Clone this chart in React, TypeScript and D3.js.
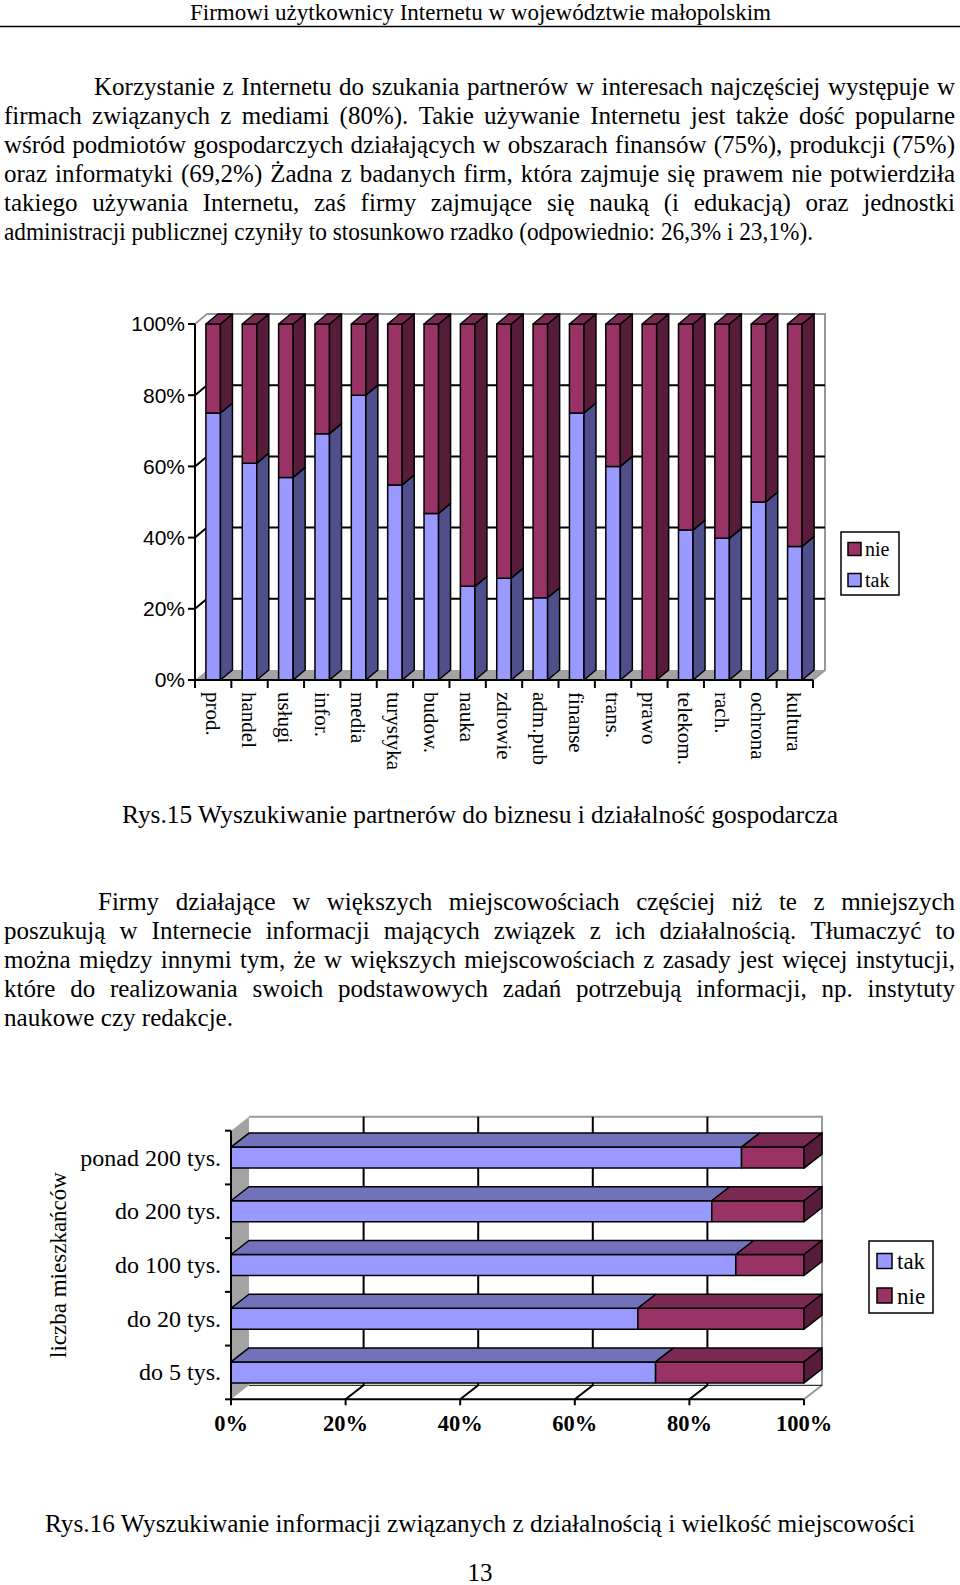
import * as d3 from 'd3'

// --- rysunek 15: partnerzy w interesach wg branży ---
const branze = ['prod.', 'handel', 'usługi', 'infor.', 'media', 'turystyka', 'budow.', 'nauka', 'zdrowie', 'adm.pub', 'finanse', 'trans.', 'prawo', 'telekom.', 'rach.', 'ochrona', 'kultura']
const branzeTak = [75, 60.9, 56.9, 69.2, 80, 54.8, 46.8, 26.3, 28.6, 23.1, 75, 60, 0, 42.1, 39.8, 50, 37.5]
const branzeNie = [25, 39.1, 43.1, 30.8, 20, 45.2, 53.2, 73.7, 71.4, 76.9, 25, 40, 100, 57.9, 60.2, 50, 62.5]
const ticks1 = [0, 20, 40, 60, 80, 100]

// --- rysunek 16: informacje a wielkość miejscowości ---
const miejscowosci = ['ponad 200 tys.', 'do 200 tys.', 'do 100 tys.', 'do 20 tys.', 'do 5 tys.']
const miejscTak = [89.1, 83.9, 88.1, 71.0, 74.1]
const miejscNie = [10.9, 16.1, 11.9, 29.0, 25.9]
const ticks2 = [0, 20, 40, 60, 80, 100]

const para1 = [
  'Korzystanie z Internetu do szukania partnerów w interesach najczęściej występuje w',
  'firmach związanych z mediami (80%). Takie używanie Internetu jest także dość popularne',
  'wśród podmiotów gospodarczych działających w obszarach finansów (75%), produkcji (75%)',
  'oraz informatyki (69,2%) Żadna z badanych firm, która zajmuje się prawem nie potwierdziła',
  'takiego używania Internetu, zaś firmy zajmujące się nauką (i edukacją) oraz jednostki',
  'administracji publicznej czyniły to stosunkowo rzadko (odpowiednio: 26,3% i 23,1%).',
]
const para2 = [
  'Firmy działające w większych miejscowościach częściej niż te z mniejszych',
  'poszukują w Internecie informacji mających związek z ich działalnością. Tłumaczyć to',
  'można między innymi tym, że w większych miejscowościach z zasady jest więcej instytucji,',
  'które do realizowania swoich podstawowych zadań potrzebują informacji, np. instytuty',
  'naukowe czy redakcje.',
]

const SERIF = "'Liberation Serif', 'Times New Roman', serif"
const SANS = "'Liberation Sans', Arial, sans-serif"
const BODY = 25

const C = {
  takFront: '#9999FF', takSide: '#4F4F8C', takTop: '#7272BA',
  nieFront: '#993366', nieSide: '#561C3A', nieTop: '#7A2952',
  floor: '#A3A3A3', edge: '#999999',
}

let ctx: CanvasRenderingContext2D | null = null
function textWidth(s: string, font: string) {
  if (!ctx) ctx = document.createElement('canvas').getContext('2d')
  ctx!.font = font
  return ctx!.measureText(s).width
}

// wyjustowana linia: słowa rozstawione od left do right
function Justified({ line, left, right, y, size, justify, lastWidth }: any) {
  if (!justify) {
    return <text x={left} y={y} fontFamily={SERIF} fontSize={size}
      textLength={lastWidth} lengthAdjust="spacingAndGlyphs">{line}</text>
  }
  const font = `${size}px 'Liberation Serif'`
  const words = line.split(' ')
  const widths = words.map((w: string) => textWidth(w, font))
  const gap = (right - left - d3.sum(widths)) / (words.length - 1)
  let x = left
  return (
    <text y={y} fontFamily={SERIF} fontSize={size}>
      {words.map((w: string, i: number) => {
        const el = <tspan key={i} x={x}>{w}</tspan>
        x += widths[i] + gap
        return el
      })}
    </text>
  )
}

function Paragraph({ lines, top, indent, lastWidth }: any) {
  return (
    <g>
      {lines.map((l: string, i: number) => (
        <Justified key={i} line={l} left={i === 0 ? indent : 4} right={955}
          y={top + i * 29} size={BODY} justify={i < lines.length - 1} lastWidth={lastWidth} />
      ))}
    </g>
  )
}

const pts = (p: number[][]) => p.map(d => d.join(',')).join(' ')

function VBar({ x, w, y0, y1, dx, dy, front, side, top, drawTop }: any) {
  // y0 = dół, y1 = góra
  return (
    <g stroke="#000" strokeWidth={1.5} strokeLinejoin="round">
      <rect x={x} y={y1} width={w} height={y0 - y1} fill={front} />
      <polygon points={pts([[x + w, y0], [x + w + dx, y0 + dy], [x + w + dx, y1 + dy], [x + w, y1]])} fill={side} />
      {drawTop && <polygon points={pts([[x, y1], [x + dx, y1 + dy], [x + w + dx, y1 + dy], [x + w, y1]])} fill={top} />}
    </g>
  )
}

function HBar({ x0, x1, y, h, dx, dy, front, side, top, drawSide }: any) {
  return (
    <g stroke="#000" strokeWidth={1.5} strokeLinejoin="round">
      <rect x={x0} y={y} width={x1 - x0} height={h} fill={front} />
      <polygon points={pts([[x0, y], [x0 + dx, y + dy], [x1 + dx, y + dy], [x1, y]])} fill={top} />
      {drawSide && <polygon points={pts([[x1, y], [x1 + dx, y + dy], [x1 + dx, y + h + dy], [x1, y + h]])} fill={side} />}
    </g>
  )
}

function Chart1() {
  const left = 195, right = 813, bottom = 680, topY = 324
  const dx = 12, dy = -10
  const x = d3.scaleBand<string>().domain(branze).range([left, right])
  const y = d3.scaleLinear().domain([0, 100]).range([bottom, topY])
  const step = x.step()
  const bw = step * 0.4
  return (
    <g>
      {/* podłoga */}
      <polygon points={pts([[left, bottom], [left + dx, bottom + dy], [right + dx, bottom + dy], [right, bottom]])} fill={C.floor} />
      {/* ściana tylna – obrys */}
      <polyline points={pts([[left, topY], [left + dx, topY + dy], [right + dx, topY + dy], [right + dx, bottom + dy], [right, bottom]])}
        fill="none" stroke={C.edge} strokeWidth={2} />
      {ticks1.filter(t => t > 0 && t < 100).map(t => (
        <polyline key={t} points={pts([[left, y(t)], [left + dx, y(t) + dy], [right + dx, y(t) + dy]])}
          fill="none" stroke="#000" strokeWidth={2} />
      ))}
      {branze.map((c, i) => {
        const bx = x(c)! + step * 0.3
        const yT = y(branzeTak[i])
        const yN = y(branzeTak[i] + branzeNie[i])
        return (
          <g key={c}>
            {branzeTak[i] > 0 && <VBar x={bx} w={bw} y0={bottom} y1={yT} dx={dx} dy={dy}
              front={C.takFront} side={C.takSide} top={C.takTop} drawTop={branzeNie[i] === 0} />}
            {branzeNie[i] > 0 && <VBar x={bx} w={bw} y0={yT} y1={yN} dx={dx} dy={dy}
              front={C.nieFront} side={C.nieSide} top={C.nieTop} drawTop />}
          </g>
        )
      })}
      {/* osie */}
      <line x1={left} y1={topY} x2={left} y2={bottom} stroke="#000" strokeWidth={2} />
      <line x1={left} y1={bottom} x2={right} y2={bottom} stroke="#000" strokeWidth={2} />
      {ticks1.map(t => (
        <g key={t}>
          <line x1={left - 7} x2={left} y1={y(t)} y2={y(t)} stroke="#000" strokeWidth={2} />
          <text x={185} y={y(t)} dy="0.35em" textAnchor="end" fontFamily={SANS} fontSize={21}>{t}%</text>
        </g>
      ))}
      {[...branze.map(c => x(c)!), right].map((v, i) => (
        <line key={i} x1={v} x2={v} y1={bottom} y2={bottom + 8} stroke="#000" strokeWidth={2} />
      ))}
      {branze.map(c => (
        <text key={c} transform={`translate(${x(c)! + step / 2},692) rotate(90)`} y={7.5}
          fontFamily={SERIF} fontSize={21}>{c}</text>
      ))}
      {/* legenda */}
      <rect x={841} y={532} width={58} height={63} fill="#fff" stroke="#000" strokeWidth={1.5} />
      <rect x={848} y={542.5} width={13} height={13} fill={C.nieFront} stroke="#000" strokeWidth={1.5} />
      <text x={865} y={556} fontFamily={SERIF} fontSize={20}>nie</text>
      <rect x={848} y={573.5} width={13} height={13} fill={C.takFront} stroke="#000" strokeWidth={1.5} />
      <text x={865} y={587} fontFamily={SERIF} fontSize={20}>tak</text>
    </g>
  )
}

function Chart2() {
  const left = 231, right = 804, topY = 1130.7, bottom = 1399.3
  const dx = 18, dy = -14
  const x = d3.scaleLinear().domain([0, 100]).range([left, right])
  const y = d3.scaleBand<string>().domain(miejscowosci).range([topY, bottom])
  const bh = 21
  const off = (y.bandwidth() - bh) / 2
  const bounds = [...miejscowosci.map(c => y(c)!), bottom]
  return (
    <g>
      {/* ściana boczna (podłoga wykresu) */}
      <polygon points={pts([[left, topY], [left + dx, topY + dy], [left + dx, bottom + dy], [left, bottom]])} fill={C.floor} />
      <polyline points={pts([[left + dx, topY + dy], [right + dx, topY + dy], [right + dx, bottom + dy], [right, bottom]])}
        fill="none" stroke={C.edge} strokeWidth={2} />
      <line x1={left + dx} x2={right + dx} y1={bottom + dy} y2={bottom + dy} stroke="#000" strokeWidth={1} />
      {ticks2.filter(t => t > 0 && t < 100).map(t => (
        <polyline key={t} points={pts([[x(t), bottom], [x(t) + dx, bottom + dy], [x(t) + dx, topY + dy]])}
          fill="none" stroke="#000" strokeWidth={2} />
      ))}
      {miejscowosci.map((c, i) => {
        const by = y(c)! + off
        return (
          <g key={c}>
            <HBar x0={x(0)} x1={x(miejscTak[i])} y={by} h={bh} dx={dx} dy={dy}
              front={C.takFront} side={C.takSide} top={C.takTop} drawSide={miejscNie[i] === 0} />
            <HBar x0={x(miejscTak[i])} x1={x(miejscTak[i] + miejscNie[i])} y={by} h={bh} dx={dx} dy={dy}
              front={C.nieFront} side={C.nieSide} top={C.nieTop} drawSide />
          </g>
        )
      })}
      <line x1={left} y1={topY} x2={left} y2={bottom} stroke="#000" strokeWidth={2} />
      <line x1={left} y1={bottom} x2={right} y2={bottom} stroke="#000" strokeWidth={2} />
      {bounds.map((v, i) => (
        <line key={i} x1={left - 6} x2={left} y1={v} y2={v} stroke="#000" strokeWidth={2} />
      ))}
      {ticks2.map(t => (
        <g key={t}>
          <line x1={x(t)} x2={x(t)} y1={bottom} y2={bottom + 6} stroke="#000" strokeWidth={2} />
          <text x={x(t)} y={1431} textAnchor="middle" fontFamily={SERIF} fontWeight="bold" fontSize={22.5}>{t}%</text>
        </g>
      ))}
      {miejscowosci.map(c => (
        <text key={c} x={221} y={y(c)! + y.bandwidth() / 2 + 8} textAnchor="end" fontFamily={SERIF} fontSize={24}>{c}</text>
      ))}
      <text transform="translate(66,1265) rotate(-90)" textAnchor="middle" fontFamily={SERIF} fontSize={23}>liczba mieszkańców</text>
      {/* legenda */}
      <rect x={869} y={1241} width={64} height={72} fill="#fff" stroke="#000" strokeWidth={1.5} />
      <rect x={877} y={1253.5} width={15} height={15} fill={C.takFront} stroke="#000" strokeWidth={1.5} />
      <text x={897} y={1269} fontFamily={SERIF} fontSize={23}>tak</text>
      <rect x={877} y={1288} width={15} height={15} fill={C.nieFront} stroke="#000" strokeWidth={1.5} />
      <text x={897} y={1303.5} fontFamily={SERIF} fontSize={23}>nie</text>
    </g>
  )
}

export default function App() {
  return (
    <svg width={960} height={1585} style={{ position: 'absolute', left: 0, top: 0, background: '#fff' }}>
      <text x={190} y={19.5} fontFamily={SERIF} fontSize={23} textLength={581} lengthAdjust="spacingAndGlyphs">Firmowi użytkownicy Internetu w województwie małopolskim</text>
      <line x1={0} x2={960} y1={26.5} y2={26.5} stroke="#000" strokeWidth={1.5} />
      <Paragraph lines={para1} top={95} indent={94} lastWidth={809} />
      <Chart1 />
      <text x={122} y={823} fontFamily={SERIF} fontSize={BODY} textLength={716} lengthAdjust="spacingAndGlyphs">Rys.15 Wyszukiwanie partnerów do biznesu i działalność gospodarcza</text>
      <Paragraph lines={para2} top={909.5} indent={98} lastWidth={229} />
      <Chart2 />
      <text x={45} y={1532} fontFamily={SERIF} fontSize={BODY} textLength={870} lengthAdjust="spacingAndGlyphs">Rys.16 Wyszukiwanie informacji związanych z działalnością i wielkość miejscowości</text>
      <text x={480} y={1581} textAnchor="middle" fontFamily={SERIF} fontSize={BODY}>13</text>
    </svg>
  )
}
